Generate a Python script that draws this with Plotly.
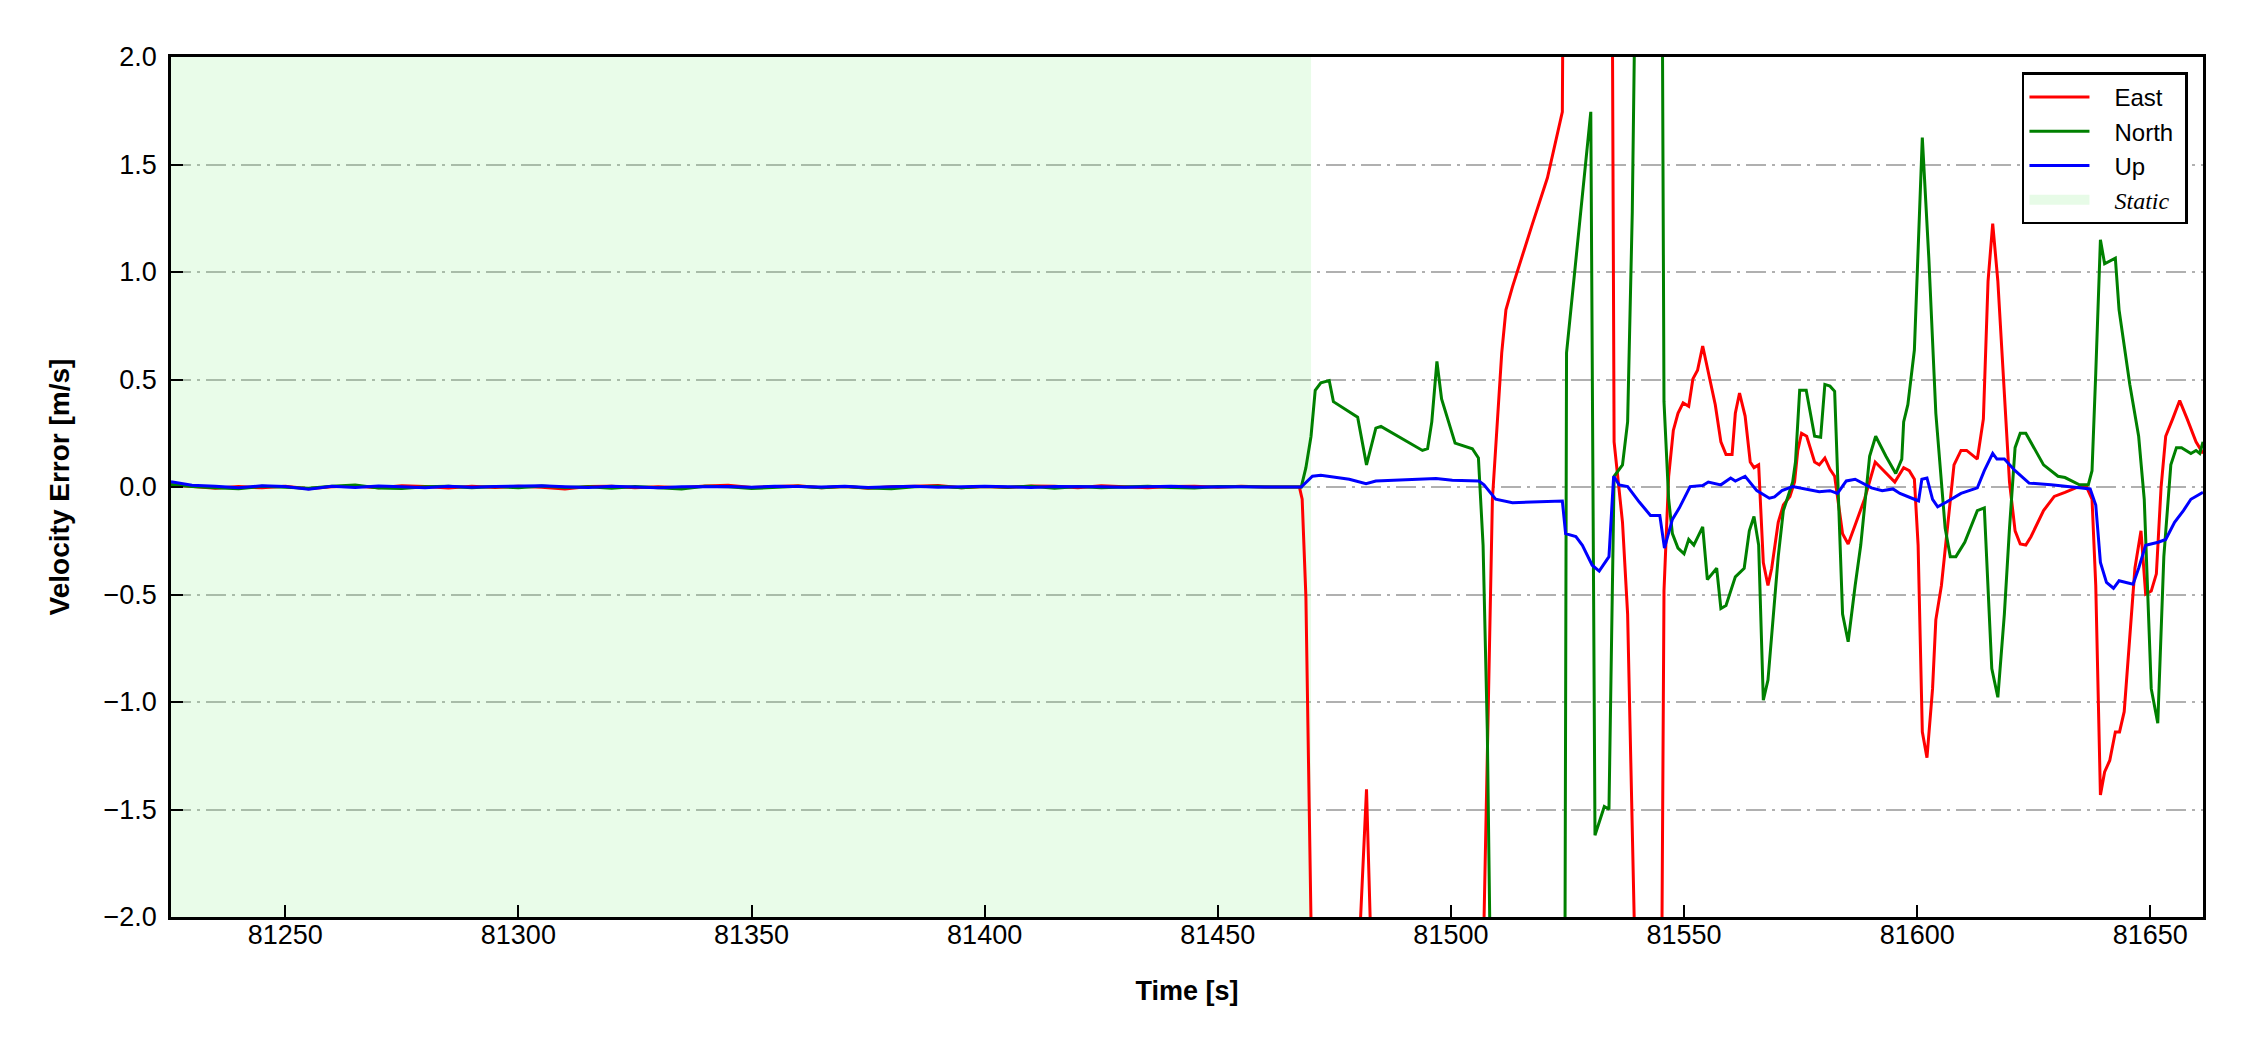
import plotly.graph_objects as go

# ---------------- data ----------------
static_start = 81225.5
static_end = 81470.0

static_t = [81225.5, 81230, 81235, 81240, 81245, 81250, 81255, 81260, 81265, 81270,
            81275, 81280, 81285, 81290, 81295, 81300, 81305, 81310, 81315, 81320,
            81325, 81330, 81335, 81340, 81345, 81350, 81355, 81360, 81365, 81370,
            81375, 81380, 81385, 81390, 81395, 81400, 81405, 81410, 81415, 81420,
            81425, 81430, 81435, 81440, 81445, 81450, 81455, 81460, 81465]

east_static = [0.010, 0.004, -0.006, 0.002, -0.004, 0.003, -0.008, 0.001, 0.005, -0.003,
               0.006, 0.002, -0.005, 0.004, -0.002, 0.003, -0.001, -0.009, 0.002, 0.004,
               -0.003, 0.001, -0.004, 0.005, 0.008, -0.002, 0.003, 0.006, -0.004, 0.002,
               -0.006, 0.001, 0.004, 0.007, -0.003, 0.002, -0.002, 0.005, 0.003, -0.004,
               0.006, 0.001, -0.003, 0.002, 0.004, -0.001, 0.003, 0.000, 0.001]
north_static = [0.012, 0.002, -0.004, -0.008, 0.003, -0.002, -0.006, 0.004, 0.009, -0.005,
                -0.007, 0.001, 0.003, -0.004, 0.002, -0.003, 0.005, -0.002, 0.001, -0.006,
                0.002, -0.004, -0.009, 0.003, 0.001, -0.007, -0.002, 0.004, -0.003, 0.002,
                -0.005, -0.008, 0.001, 0.003, -0.004, 0.002, -0.001, 0.004, -0.006, 0.002,
                -0.003, 0.001, 0.003, -0.002, -0.005, 0.002, 0.001, -0.002, 0.000]
up_static = [0.025, 0.008, 0.004, -0.004, 0.006, 0.002, -0.010, 0.003, -0.002, 0.005,
             0.001, -0.003, 0.004, -0.001, 0.002, 0.003, 0.006, 0.001, -0.002, 0.004,
             0.002, -0.003, 0.001, 0.003, 0.002, -0.001, 0.004, 0.002, 0.000, 0.003,
             -0.002, 0.001, 0.003, -0.001, 0.002, 0.004, 0.001, -0.002, 0.002, 0.003,
             0.001, -0.001, 0.002, 0.003, 0.000, 0.002, 0.001, 0.000, 0.001]

east_dyn = [(81467.5, 0.0), (81468.1, -0.057), (81468.9, -0.511), (81471, -3.4), (81480, -2.3),
            (81481.9, -1.406), (81483, -2.25), (81495, -3.5), (81506.2, -3.0), (81508.9, -0.057),
            (81510, 0.343), (81510.9, 0.624), (81511.8, 0.824), (81513.2, 0.931), (81517.5, 1.225),
            (81520.7, 1.438), (81523.9, 1.745), (81524.6, 4.5), (81530, 5.0), (81534.2, 4.5),
            (81535, 0.21), (81536.8, -0.164), (81537.9, -0.591), (81540.5, -3.2), (81543, -4.0),
            (81545.0, -3.0), (81545.7, -0.484), (81546.7, 0.05), (81547.7, 0.263), (81548.7, 0.343),
            (81549.8, 0.391), (81551, 0.375), (81551.9, 0.503), (81552.9, 0.543), (81554, 0.656),
            (81555.2, 0.53), (81556.7, 0.383), (81557.9, 0.21), (81559, 0.151), (81560.3, 0.151),
            (81561, 0.343), (81561.9, 0.437), (81563.1, 0.33), (81564.2, 0.116), (81565, 0.09),
            (81566, 0.103), (81567, -0.351), (81568, -0.458), (81568.8, -0.378), (81570.2, -0.164),
            (81571.3, -0.084), (81572.7, -0.044), (81573.7, 0.023), (81574.4, 0.17), (81575.2, 0.25),
            (81576.3, 0.236), (81578, 0.116), (81579, 0.103), (81580.2, 0.135), (81581.3, 0.082),
            (81582.3, 0.05), (81584, -0.217), (81585.2, -0.265), (81586.7, -0.177), (81588.7, -0.057),
            (81591, 0.116), (81593.3, 0.063), (81595.2, 0.023), (81597.1, 0.09), (81598.3, 0.076),
            (81599.4, 0.036), (81600.2, -0.27), (81601.1, -1.139), (81602.1, -1.259), (81603.3, -0.938),
            (81604, -0.618), (81605.2, -0.458), (81606.7, -0.137), (81607.9, 0.103), (81609.4, 0.17),
            (81610.6, 0.17), (81612.9, 0.13), (81614.2, 0.317), (81615.2, 0.958), (81616.2, 1.225),
            (81617.3, 0.958), (81618.7, 0.423), (81619.8, 0.023), (81621, -0.204), (81622.1, -0.265),
            (81623.3, -0.27), (81624.4, -0.231), (81627.1, -0.11), (81629.4, -0.044), (81631.7, -0.025),
            (81634, -0.004), (81636.3, 0.002), (81637.5, -0.057), (81638.3, -0.458), (81639.3, -1.432),
            (81640.2, -1.325), (81641.3, -1.272), (81642.5, -1.139), (81643.4, -1.139), (81644.4, -1.045),
            (81645.6, -0.671), (81646.7, -0.378), (81648, -0.204), (81649, -0.498), (81650.2, -0.484),
            (81651.3, -0.404), (81652.3, -0.004), (81653.3, 0.236), (81654.8, 0.317), (81656.3, 0.402),
            (81657.9, 0.317), (81659.8, 0.21), (81661.3, 0.156)]

north_dyn = [(81467.9, 0.0), (81468.9, 0.09), (81470, 0.236), (81470.9, 0.45), (81472.1, 0.485),
             (81473.9, 0.495), (81474.8, 0.397), (81480, 0.325), (81481.9, 0.103), (81483.9, 0.274),
             (81485, 0.282), (81493.9, 0.17), (81495, 0.178), (81495.9, 0.303), (81497, 0.584),
             (81498, 0.41), (81500.9, 0.204), (81504.6, 0.178), (81505.9, 0.135), (81506.9, -0.271),
             (81507.8, -1.125), (81509.5, -4.0), (81516, -4.5), (81524.3, -3.5), (81524.8, 0.624),
             (81530, 1.745), (81530.9, -1.62), (81532.9, -1.486), (81533.9, -1.499), (81535, 0.05),
             (81536.8, 0.103), (81537.9, 0.303), (81538.9, 1.28), (81540.5, 4.0), (81542.5, 4.5),
             (81545.0, 4.0), (81545.7, 0.397), (81546.7, -0.057), (81547.5, -0.217), (81548.7, -0.284),
             (81550, -0.311), (81551, -0.244), (81552.1, -0.27), (81554, -0.185), (81555, -0.431),
             (81557, -0.378), (81557.9, -0.565), (81559, -0.551), (81561, -0.418), (81562.9, -0.378),
             (81564, -0.204), (81565, -0.137), (81566, -0.27), (81567, -0.992), (81568, -0.898),
             (81570.2, -0.324), (81571.3, -0.11), (81573.3, 0.023), (81573.9, 0.116), (81574.8, 0.45),
             (81576.2, 0.45), (81578, 0.236), (81579.3, 0.231), (81580.2, 0.477), (81581.3, 0.469),
             (81582.3, 0.445), (81584, -0.591), (81585.2, -0.72), (81586.7, -0.458), (81587.9, -0.27),
             (81589.8, 0.143), (81591.1, 0.236), (81593.3, 0.143), (81595.4, 0.063), (81596.7, 0.13),
             (81597.1, 0.303), (81598, 0.383), (81599.4, 0.637), (81601.1, 1.625), (81602.5, 1.064),
             (81604, 0.343), (81606, -0.191), (81607.1, -0.324), (81608.3, -0.324), (81610.2, -0.257),
             (81612.9, -0.11), (81614.4, -0.097), (81616, -0.845), (81617.3, -0.978), (81618.7, -0.591),
             (81619.8, -0.191), (81621, 0.183), (81622.1, 0.25), (81623.3, 0.25), (81627.1, 0.103),
             (81630.2, 0.05), (81631.7, 0.044), (81634.8, 0.01), (81636.7, 0.01), (81637.5, 0.076),
             (81638.3, 0.53), (81639.3, 1.15), (81640.2, 1.038), (81642.5, 1.064), (81643.3, 0.824),
             (81645.6, 0.477), (81647.5, 0.236), (81648.7, -0.057), (81650.2, -0.938), (81651.6, -1.099),
             (81652.9, -0.324), (81654.4, 0.103), (81655.6, 0.183), (81656.7, 0.183), (81658.7, 0.156),
             (81659.8, 0.17), (81660.6, 0.156), (81661.3, 0.21)]

up_dyn = [(81467.9, 0.0), (81470.3, 0.05), (81472.1, 0.055), (81478.2, 0.036), (81481.8, 0.015),
          (81483.9, 0.028), (81491.8, 0.034), (81496.8, 0.039), (81500.3, 0.031), (81506, 0.028),
          (81507.1, 0.01), (81509.6, -0.057), (81513.2, -0.073), (81518.9, -0.068), (81523.9, -0.065),
          (81524.6, -0.217), (81526.8, -0.231), (81528.2, -0.271), (81530.3, -0.364), (81531.8, -0.391),
          (81533.9, -0.324), (81534.9, 0.05), (81536.1, 0.01), (81537.9, 0.002), (81540.4, -0.07),
          (81542.8, -0.132), (81544.8, -0.132), (81545.8, -0.284), (81547.5, -0.151), (81549, -0.097),
          (81551.3, 0.002), (81554, 0.007), (81555.2, 0.023), (81557.9, 0.01), (81560, 0.042),
          (81561, 0.028), (81563.1, 0.05), (81565.6, -0.017), (81568.3, -0.052), (81569.4, -0.046),
          (81571, -0.017), (81573.3, 0.002), (81576.3, -0.012), (81579, -0.022), (81581.3, -0.017),
          (81582.9, -0.03), (81584.8, 0.028), (81586.7, 0.036), (81590.2, -0.004), (81592.5, -0.017),
          (81594.8, -0.009), (81596.3, -0.03), (81599.4, -0.057), (81600.3, -0.065), (81601, 0.036),
          (81602.1, 0.042), (81603.3, -0.057), (81604.4, -0.092), (81606.3, -0.07), (81609.4, -0.03),
          (81612.9, -0.004), (81614.4, 0.076), (81616.2, 0.156), (81617.1, 0.13), (81618.7, 0.13),
          (81621, 0.076), (81624, 0.018), (81628.7, 0.01), (81634.8, -0.004), (81637.1, -0.009),
          (81638.3, -0.084), (81639.3, -0.351), (81640.6, -0.444), (81642.1, -0.471), (81643.3, -0.436),
          (81646.3, -0.452), (81647.5, -0.378), (81649, -0.271), (81651.7, -0.257), (81653.3, -0.244),
          (81655.2, -0.164), (81657.1, -0.11), (81658.7, -0.057), (81661.3, -0.025)]

x_ticks = [81250, 81300, 81350, 81400, 81450, 81500, 81550, 81600, 81650]
x_range = [81225.5, 81661.3]
y_range = [-2.0, 2.0]


def series(static_vals, dyn):
    xs = list(static_t) + [p[0] for p in dyn]
    ys = list(static_vals) + [p[1] for p in dyn]
    return xs, ys


FONT = "Liberation Sans, Arial, sans-serif"
SERIF = "Liberation Serif, Times New Roman, serif"
NB = "\u00a0\u00a0\u00a0"
TR = "\u00a0"
STATIC_FILL = "rgba(144,238,144,0.2)"

fig = go.Figure()

# static shading (drawn first, below the lines)
fig.add_trace(go.Scatter(
    x=[static_start, static_end, static_end, static_start, static_start],
    y=[y_range[0], y_range[0], y_range[1], y_range[1], y_range[0]],
    fill="toself", fillcolor=STATIC_FILL, mode="lines",
    line=dict(width=0, color="rgba(0,0,0,0)"),
    showlegend=False, hoverinfo="skip"))

for name, vals, dyn, color, rank in [("East", east_static, east_dyn, "#ff0000", 1),
                                     ("North", north_static, north_dyn, "#008000", 2),
                                     ("Up", up_static, up_dyn, "#0000ff", 3)]:
    xs, ys = series(vals, dyn)
    fig.add_trace(go.Scatter(x=xs, y=ys, mode="lines", name=NB + name + TR,
                             line=dict(color=color, width=3), legendrank=rank))

# legend entry for the static shading
fig.add_trace(go.Scatter(
    x=[None], y=[None], mode="lines",
    line=dict(color="#e7fbe7", width=16),
    name=NB + '<span style="font-family:%s"><i>Static</i></span>' % SERIF + TR,
    legendrank=4, hoverinfo="skip"))

fig.update_layout(
    width=2242, height=1042,
    margin=dict(l=163, r=47, t=49, b=133),
    paper_bgcolor="white", plot_bgcolor="white",
    font=dict(family=FONT, color="black", size=27),
    showlegend=True,
    legend=dict(x=0.9926, y=0.982, xanchor="right", yanchor="top",
                bgcolor="white", bordercolor="black", borderwidth=2.5,
                font=dict(family=FONT, size=24, color="black"),
                itemwidth=60, tracegroupgap=0, traceorder="normal"),
)

fig.update_xaxes(
    range=x_range, tickvals=x_ticks, tickformat="d",
    showgrid=False, zeroline=False,
    showline=True, linecolor="black", linewidth=2.5, mirror=True,
    ticks="inside", ticklen=12, tickwidth=2, tickcolor="black",
    tickfont=dict(family=FONT, size=27), ticklabelstandoff=-8,
    title=dict(text="<b>Time [s]</b>", font=dict(family=FONT, size=27), standoff=32),
)
fig.update_yaxes(
    range=y_range, dtick=0.5, tick0=0, tickformat=".1f",
    showgrid=True, gridcolor="#b0b0b0", gridwidth=2.2, griddash="20px,6px,3px,6px",
    zeroline=False,
    showline=True, linecolor="black", linewidth=2.5, mirror=True,
    ticks="inside", ticklen=12, tickwidth=2, tickcolor="black",
    tickfont=dict(family=FONT, size=27), ticklabelstandoff=6,
    title=dict(text="<b>Velocity Error [m/s]</b>", font=dict(family=FONT, size=28), standoff=26),
)

fig.write_html("out.html")
